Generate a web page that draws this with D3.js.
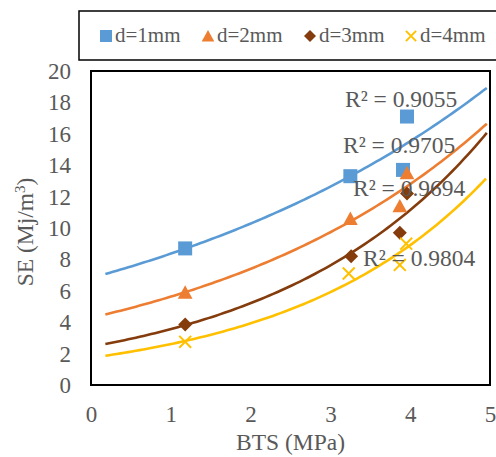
<!DOCTYPE html>
<html>
<head>
<meta charset="utf-8">
<script src="https://cdn.jsdelivr.net/npm/d3@7"></script>
<style>
  html, body { margin: 0; padding: 0; background: #fff; overflow: hidden; }
</style>
</head>
<body>
<svg id="chart" width="496" height="457"></svg>
<script>
// Specific energy vs. Brazilian tensile strength, one series per diameter
const seriesNames = ["d=1mm", "d=2mm", "d=3mm", "d=4mm"];
const bts1 = [1.18, 3.25, 3.91, 3.96];
const se1  = [8.7, 13.3, 13.7, 17.1];
const bts2 = [1.18, 3.25, 3.87, 3.96];
const se2  = [5.9, 10.6, 11.4, 13.5];
const bts3 = [1.18, 3.26, 3.87, 3.96];
const se3  = [3.85, 8.2, 9.7, 12.2];
const bts4 = [1.18, 3.23, 3.87, 3.95];
const se4  = [2.75, 7.1, 7.65, 9.0];
const r2Labels = ["R² = 0.9055", "R² = 0.9705", "R² = 0.9694", "R² = 0.9804"];
const xTicks = [0, 1, 2, 3, 4, 5];
const yTicks = [0, 2, 4, 6, 8, 10, 12, 14, 16, 18, 20];

const FONT = '"Liberation Serif"';
const TEXT = "#595959";
const colors = ["#5B9BD5", "#ED7D31", "#843C0C", "#FFC000"];
const shapes = ["square", "triangle", "diamond", "cross"];
const series = [[bts1, se1], [bts2, se2], [bts3, se3], [bts4, se4]].map((s, i) => ({
  name: seriesNames[i],
  pts: s[0].map((x, j) => ({ x, y: s[1][j] })),
  color: colors[i],
  shape: shapes[i],
  r2: r2Labels[i]
}));

const svg = d3.select("#chart");
const plot = { left: 91, top: 71, right: 490, bottom: 385 };
const x = d3.scaleLinear().domain([0, 5]).range([plot.left, plot.right]);
const y = d3.scaleLinear().domain([0, 20]).range([plot.bottom, plot.top]);

function label(sel, size) {
  return sel.style("font-family", FONT)
    .style("font-size", size + "px").attr("fill", TEXT);
}

// Exponential least-squares trend (fit on ln y), extended one unit each side
function expFit(pts) {
  const mx = d3.mean(pts, p => p.x);
  const ml = d3.mean(pts, p => Math.log(p.y));
  let sxy = 0, sxx = 0;
  pts.forEach(p => { sxy += (p.x - mx) * (Math.log(p.y) - ml); sxx += (p.x - mx) ** 2; });
  const b = sxy / sxx;
  const a = Math.exp(ml - b * mx);
  return xv => a * Math.exp(b * xv);
}

// Axes
const xAxis = d3.axisBottom(x).tickValues(xTicks).tickSize(0).tickFormat(d3.format("d"));
const yAxis = d3.axisLeft(y).tickValues(yTicks).tickSize(0).tickFormat(d3.format("d"));
const gx = svg.append("g").attr("transform", `translate(0,${plot.bottom})`).call(xAxis);
const gy = svg.append("g").attr("transform", `translate(${plot.left},0)`).call(yAxis);
[gx, gy].forEach(g => {
  g.select(".domain").remove();
  g.attr("font-family", null).attr("font-size", null);
  label(g.selectAll("text"), 23);
});
gx.selectAll("text").attr("y", 37).attr("dy", null);
gy.selectAll("text").attr("x", -20).attr("dy", "0.33em");

// Plot frame
svg.append("rect")
  .attr("x", plot.left).attr("y", plot.top)
  .attr("width", plot.right - plot.left).attr("height", plot.bottom - plot.top)
  .attr("fill", "none").attr("stroke", "#000").attr("stroke-width", 2);

// Trendlines
const line = d3.line().x(d => x(d[0])).y(d => y(d[1]));
series.forEach(s => {
  const f = expFit(s.pts);
  const x0 = d3.min(s.pts, p => p.x) - 1, x1 = d3.max(s.pts, p => p.x) + 1;
  const samples = d3.range(0, 101).map(i => { const xv = x0 + (x1 - x0) * i / 100; return [xv, f(xv)]; });
  svg.append("path").attr("d", line(samples))
    .attr("fill", "none").attr("stroke", s.color).attr("stroke-width", 2.6);
});

// Marker drawing
function marker(g, shape, color, size) {
  const h = size / 2;
  if (shape === "square") {
    g.append("rect").attr("x", -h).attr("y", -h).attr("width", size).attr("height", size).attr("fill", color);
  } else if (shape === "triangle") {
    g.append("path").attr("d", `M0,${-h}L${h * 1.05},${h * 0.9}L${-h * 1.05},${h * 0.9}Z`).attr("fill", color);
  } else if (shape === "diamond") {
    g.append("path").attr("d", `M0,${-h}L${h},0L0,${h}L${-h},0Z`).attr("fill", color);
  } else {
    const c = h * 0.85;
    g.append("path").attr("d", `M${-c},${-c}L${c},${c}M${-c},${c}L${c},${-c}`)
      .attr("stroke", color).attr("stroke-width", 2).attr("fill", "none");
  }
}

series.forEach(s => {
  s.pts.forEach(p => {
    const g = svg.append("g").attr("transform", `translate(${x(p.x)},${y(p.y)})`);
    marker(g, s.shape, s.color, 14);
  });
});

// R² annotations
const r2Pos = [[345, 107], [343, 153], [353, 196], [363, 266]];
series.forEach((s, i) => {
  label(svg.append("text"), 23.5).attr("x", r2Pos[i][0]).attr("y", r2Pos[i][1]).text(s.r2);
});

// Axis titles
label(svg.append("text"), 23.5)
  .attr("x", (plot.left + plot.right) / 2).attr("y", 450)
  .attr("text-anchor", "middle").text("BTS (MPa)");
const yt = label(svg.append("text"), 23.5)
  .attr("transform", `translate(33,${(plot.top + plot.bottom) / 2 + 4}) rotate(-90)`)
  .attr("text-anchor", "middle");
yt.append("tspan").text("SE (Mj/m");
yt.append("tspan").attr("dy", -8).style("font-size", "15px").text("3");
yt.append("tspan").attr("dy", 8).text(")");

// Legend
svg.append("rect").attr("x", 79).attr("y", 11).attr("width", 430).attr("height", 49)
  .attr("fill", "#fff").attr("stroke", "#000").attr("stroke-width", 1.5);
const legX = [106, 208, 310, 411];
series.forEach((s, i) => {
  const g = svg.append("g").attr("transform", `translate(${legX[i]},36)`);
  marker(g, s.shape, s.color, 12);
  label(svg.append("text"), 21).attr("x", legX[i] + 9).attr("y", 42).text(s.name);
});
</script>
</body>
</html>
